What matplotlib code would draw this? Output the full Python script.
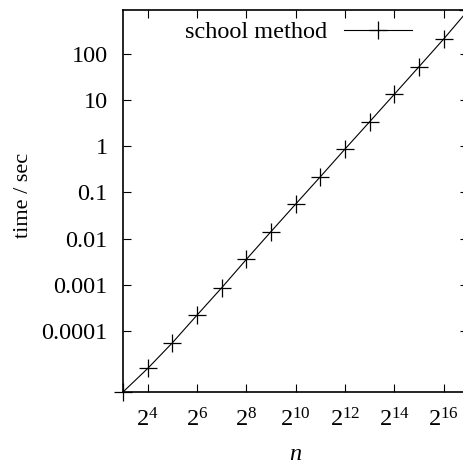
import numpy as np
import matplotlib
matplotlib.use("Agg")
import matplotlib.pyplot as plt

# ---- data ----
exponents = [3, 4, 5, 6, 7, 8, 9, 10, 11, 12, 13, 14, 15, 16, 17]
times = [4.7e-6, 1.52e-5, 5.47e-5, 2.18e-4, 8.53e-4, 3.52e-3, 0.0141,
         0.0557, 0.218, 0.869, 3.40, 13.4, 53.0, 211.0, 900.0]
xtick_exp = [4, 6, 8, 10, 12, 14, 16]
ytick_vals = [1e-4, 1e-3, 1e-2, 0.1, 1, 10, 100]
ytick_labels = ['0.0001', '0.001', '0.01', '0.1', '1', '10', '100']

FS = 17.5
plt.rcParams['font.family'] = ['Liberation Serif', 'DejaVu Serif']
plt.rcParams['mathtext.fontset'] = 'custom'
plt.rcParams['mathtext.rm'] = 'Liberation Serif'
plt.rcParams['mathtext.it'] = 'Liberation Serif:italic'
plt.rcParams['font.size'] = FS

W, H = 464, 468
fig = plt.figure(figsize=(W / 100, H / 100), dpi=100)
# axes runs a little past the right edge, like the cropped original
ax = fig.add_axes([123 / W, (H - 392) / H, (468.3 - 123) / W, (392 - 10) / H])

n = [2.0 ** e for e in exponents]
ax.plot(n, times, color='black', lw=0.8, marker='+', ms=12.5, mew=0.9,
        clip_on=False, label='school method')

ax.set_xscale('log', base=2)
ax.set_yscale('log')
ax.set_xlim(n[0], n[-1])
ax.set_ylim(times[0], times[-1])

ax.set_xticks([2.0 ** e for e in xtick_exp])
ax.set_xticklabels([r'$2^{%d}$' % e for e in xtick_exp])
ax.set_yticks(ytick_vals)
ax.set_yticklabels(ytick_labels)
ax.minorticks_off()
ax.tick_params(direction='in', length=6, width=0.8, top=True, right=True,
               labelsize=FS)
ax.tick_params(axis='x', pad=12)
ax.tick_params(axis='y', pad=11)
for s in ax.spines.values():
    s.set_linewidth(1.2)

ax.set_xlabel(r'$\mathit{n}$', fontsize=FS, labelpad=9)
ax.set_ylabel('time / sec', fontsize=16)
ax.yaxis.set_label_coords((33 - 123) / 345.3, (392 - 195) / 382)

ax.legend(loc='center right', bbox_to_anchor=(412 / W, (H - 32) / H),
          bbox_transform=fig.transFigure, frameon=False, markerfirst=False,
          handlelength=2.8, handletextpad=0.7, borderpad=0, borderaxespad=0,
          fontsize=FS)

fig.savefig('out.png', dpi=100)
